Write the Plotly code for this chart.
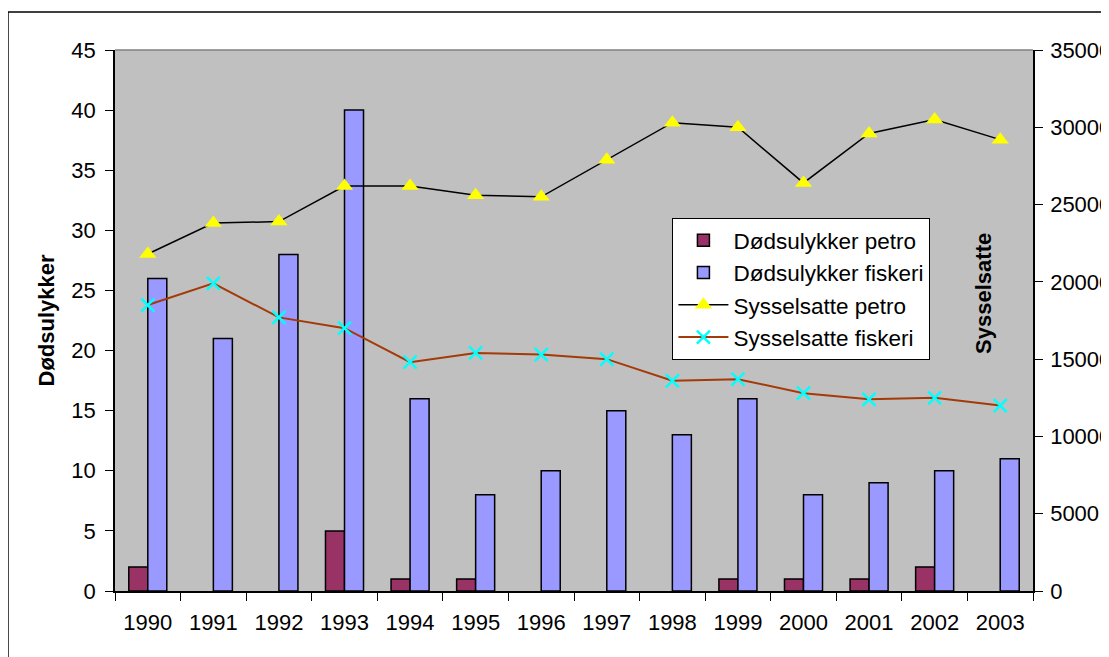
import plotly.graph_objects as go

years = ["1990", "1991", "1992", "1993", "1994", "1995", "1996",
         "1997", "1998", "1999", "2000", "2001", "2002", "2003"]
dod_petro = [2, 0, 0, 5, 1, 1, 0, 0, 0, 1, 1, 1, 2, 0]
dod_fiskeri = [26, 21, 28, 40, 16, 8, 10, 15, 13, 16, 8, 9, 10, 11]
syss_petro = [21800, 23800, 23900, 26200, 26200, 25600, 25500,
              27900, 30300, 30000, 26400, 29600, 30500, 29200]
syss_fiskeri = [18500, 19900, 17700, 17000, 14800, 15400, 15300,
                15000, 13600, 13700, 12800, 12400, 12500, 12000]
left_ticks = [0, 5, 10, 15, 20, 25, 30, 35, 40, 45]
right_ticks = [0, 5000, 10000, 15000, 20000, 25000, 30000, 35000]

FONT = "Liberation Sans, Arial, sans-serif"
FS = 22


def outline(values):
    return [1.5 if v else 0 for v in values]


fig = go.Figure()
fig.add_trace(go.Bar(x=years, y=dod_petro, name="Dødsulykker petro",
                     marker=dict(color="#993366",
                                 line=dict(color="black", width=outline(dod_petro)))))
fig.add_trace(go.Bar(x=years, y=dod_fiskeri, name="Dødsulykker fiskeri",
                     marker=dict(color="#9999FF",
                                 line=dict(color="black", width=outline(dod_fiskeri)))))
fig.add_trace(go.Scatter(x=years, y=syss_petro, name="Sysselsatte petro", yaxis="y2",
                         mode="lines+markers", line=dict(color="black", width=1.5),
                         marker=dict(symbol="triangle-up", color="#FFFF00", size=15)))
fig.add_trace(go.Scatter(x=years, y=syss_fiskeri, name="Sysselsatte fiskeri", yaxis="y2",
                         mode="lines+markers", line=dict(color="#A33A08", width=2),
                         marker=dict(symbol="x-thin-open", size=13, color="#00FFFF",
                                     line=dict(color="#00FFFF", width=2.5))))

axis_common = dict(showgrid=False, zeroline=False, showline=True, linecolor="black",
                   linewidth=1.5, ticks="outside", ticklen=8, tickcolor="black",
                   tickwidth=1.2, automargin=False,
                   tickfont=dict(family=FONT, size=FS, color="black"))

# page body has an 8px margin, so the figure is 8px smaller and offset
fig.update_layout(
    template="none",
    width=1101, height=649,
    margin=dict(l=107, r=76, t=42, b=66, autoexpand=False),
    paper_bgcolor="white", plot_bgcolor="#C0C0C0",
    barmode="group", bargap=0.42, bargroupgap=0,
    font=dict(family=FONT, size=FS, color="black"),
    xaxis=dict(axis_common, type="category", tickson="boundaries",
               range=[-0.5, len(years) - 0.5], ticklabelstandoff=11),
    yaxis=dict(axis_common, range=[0, 45], tickvals=left_ticks, ticklabelstandoff=5),
    yaxis2=dict(axis_common, range=[0, 35000], tickvals=right_ticks, overlaying="y",
                side="right", tickformat="d", ticklabelstandoff=3),
    legend=dict(x=0.607, y=0.6895, xanchor="left", yanchor="top",
                bgcolor="white", bordercolor="black", borderwidth=1.2,
                font=dict(family=FONT, size=22.5, color="black"),
                itemwidth=50, tracegroupgap=4),
    showlegend=True,
    annotations=[
        dict(text="<b>Dødsulykker</b>", xref="paper", yref="paper", x=-0.0741, y=0.50,
             xanchor="center", yanchor="middle",
             textangle=-90, showarrow=False, font=dict(family=FONT, size=FS)),
        dict(text="<b>Sysselsatte</b>", xref="paper", yref="paper", x=0.9466, y=0.551,
             xanchor="center", yanchor="middle",
             textangle=-90, showarrow=False, font=dict(family=FONT, size=FS)),
    ],
    shapes=[
        dict(type="line", xref="paper", yref="paper", x0=0, x1=1, y0=1, y1=1,
             line=dict(color="#808080", width=1.5)),
        dict(type="rect", xref="paper", yref="paper", x0=-0.1166, x1=1.2, y0=-0.3, y1=1.0702,
             line=dict(color="black", width=1.5), layer="below"),
    ],
)

fig.write_html("out.html")
